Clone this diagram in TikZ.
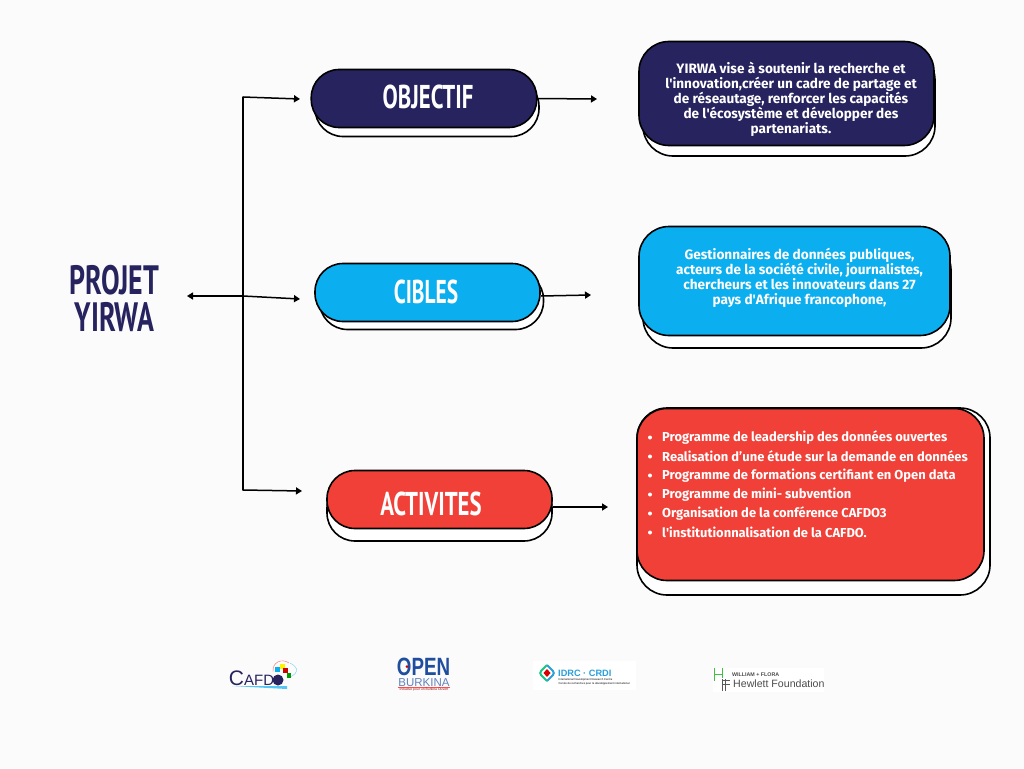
\documentclass[tikz,border=0pt]{standalone}
\usepackage{fontspec}
\setmainfont{Fira Sans}
\newfontfamily\headfont{PT Sans}
\newfontfamily\logofont{Liberation Sans}
\usetikzlibrary{arrows.meta}
\definecolor{fondpage}{HTML}{FBFBFB}
\definecolor{navy}{HTML}{27235F}
\definecolor{cyanb}{HTML}{0BAEEF}
\definecolor{rouge}{HTML}{F04037}
\definecolor{bleuopen}{HTML}{1F4E9E}
\definecolor{bleuidrc}{HTML}{2A9FD8}
\tikzset{
  backbox/.style={draw=black,line width=1.6pt,fill=white,inner sep=0pt,outer sep=0pt},
  pill/.style={backbox,rounded corners=28pt,minimum width=224pt,minimum height=58pt},
  card/.style={backbox,rounded corners=30pt},
  head/.style={font=\headfont\bfseries\fontsize{33}{33}\selectfont,text=white,xscale=.69,transform shape},
  title/.style={font=\headfont\bfseries\fontsize{41}{37}\selectfont,text=navy,xscale=.68,transform shape,align=center},
  body/.style={font=\bfseries\fontsize{13.6}{15}\selectfont,text=white,align=center},
  item/.style={font=\bfseries\fontsize{12.95}{14}\selectfont,text=white,anchor=west,inner sep=0pt},
  link/.style={line width=1.5pt,-{Triangle[length=6pt,width=7pt]}},
  tiny/.style={font=\logofont\fontsize{2.75}{4}\selectfont,anchor=west,inner sep=0pt},
}
\begin{document}
\begin{tikzpicture}[x=1pt,y=-1pt]   % ------ coordinates read off in pixels -----------
    \fill[fondpage] (0,0) rectangle (1024,768);
    \useasboundingbox (0,0) rectangle (1024,768);
    % back shapes
    \node[pill] (objectifback) at (427,107.5) {};
    \node[pill] (ciblesback) at (431.5,300.5) {};
    \node[pill,minimum height=61pt,minimum width=225pt] (activitesback) at (439.5,510.5) {};
    \node[card,minimum width=292pt,minimum height=106pt] (butback) at (789,103) {};
    \node[card,minimum width=308pt,minimum height=108pt] (publicback) at (797,294) {};
    \node[card,minimum width=353pt,minimum height=187pt] (listeback) at (813.5,501.5) {};
    % front shapes
    \node[pill,fill=navy,minimum width=225.5pt] (objectif) at (424,98.5) {};
    \node[pill,fill=cyanb,minimum width=225pt] (cibles) at (427.5,292.5) {};
    \node[pill,fill=rouge,minimum width=225pt] (activites) at (439.5,499.5) {};
    \node[card,fill=navy,minimum width=295pt,minimum height=104pt] (but) at (786.5,93.5) {};
    \node[card,fill=cyanb,minimum width=311pt,minimum height=109pt] (public) at (794.5,281) {};
    \node[card,fill=rouge,minimum width=347pt,minimum height=172pt] (liste) at (810.5,494.5) {};
    % labels
    \node[head] (objectiftxt) at (428,97) {OBJECTIF};
    \node[head,xscale=.94] (ciblestxt) at (426,292) {CIBLES};
    \node[head] (activitestxt) at (431,504) {ACTIVITES};
    \node[title] (projet) at (114.5,298) {PROJET\\YIRWA};
    \node[body] (buttxt) at (791,99.5) {YIRWA vise à soutenir la recherche et\\ l\textquotesingle innovation,créer un cadre de partage et\\ de réseautage, renforcer les capacités\\ de l\textquotesingle écosystème et développer des\\ partenariats.};
    \node[body] (publictxt) at (799.5,278) {Gestionnaires de données publiques,\\ acteurs de la société civile, journalistes,\\ chercheurs et les innovateurs dans 27\\ pays d\textquotesingle Afrique francophone,};
    \foreach \ligne/\y/\txt in {a/437.5/Programme de leadership des données ouvertes,
        b/456.5/Realisation d’une étude sur la demande en données,
        c/475.5/Programme de formations certifiant en Open data,
        d/494.5/Programme de mini- subvention,
        e/513.5/Organisation de la conférence CAFDO3,
        f/532.5/l\textquotesingle institutionnalisation de la CAFDO.}{
      \fill[white] (650,\y) circle (2pt);
      \node[item] (item\ligne) at (662,\y) {\txt};
    }
    % connectors
    \coordinate (tronchaut) at (243,97);
    \coordinate (troncmil) at (243,296);
    \coordinate (troncbas) at (243,490);
    \coordinate (versobjectif) at (300,99);
    \coordinate (verscibles) at (300,299);
    \coordinate (versactivites) at (302,491);
    \coordinate (versprojet) at (187,296);
    \coordinate (sortiecibles) at (541,296);
    \coordinate (versbut) at (597,99);
    \coordinate (verspublic) at (591,295);
    \coordinate (sortieactivites) at (553,507);
    \coordinate (versliste) at (608,507);
    \draw[line width=1.5pt,line cap=round] (tronchaut) -- (troncbas);
    \draw[link] (tronchaut) -- (versobjectif);
    \draw[link] (troncmil) -- (verscibles);
    \draw[link] (troncbas) -- (versactivites);
    \draw[link] (troncmil) -- (versprojet);
    \draw[link] (objectif.east) -- (versbut);
    \draw[link] (sortiecibles) -- (verspublic);
    \draw[link] (sortieactivites) -- (versliste);
    % logo CAFDO
    \draw[red!60,line width=.4pt] (273,672) .. controls (272,662) and (282,658) .. (289,663);
    \draw[cyanb!60,line width=.4pt] (290,663) .. controls (300,668) and (298,674) .. (288,678);
    \fill[cyanb] (275,667) rectangle (280,672);
    \fill[yellow] (280,664) rectangle (285,669);
    \fill[red!80!black] (283,668) rectangle (288,673);
    \fill[green!60!black] (287,673) rectangle (291,678);
    \fill[cyanb!70] (232,686) -- (287,686) -- (287,689) .. controls (260,687) .. (232,686);
    \fill[navy] (278,680) circle (5.5pt);
    \node[font=\logofont,text=navy,inner sep=0pt] (cafdo) at (251.5,678) {\fontsize{21}{21}\selectfont C\fontsize{15}{15}\selectfont AFD};
    % logo Open Burkina
    \node[font=\logofont\bfseries\fontsize{25}{25}\selectfont,text=bleuopen,inner sep=0pt,xscale=.75,transform shape] (open) at (423.5,667) {OPEN};
    \fill[red!80!black] (407,666.5) circle (1.5pt);
    \node[font=\logofont\fontsize{11.5}{12}\selectfont,text=bleuopen!70,inner sep=0pt] (burkina) at (424,682.2) {BURKINA};
    \draw[red!70,line width=.5pt] (398,687.3) -- (450,687.3);
    \node[font=\logofont\fontsize{3.4}{4}\selectfont,text=red!70!black,inner sep=0pt] (ouvert) at (424,689.3) {Initiative pour un Burkina Ouvert};
    % logo IDRC
    \fill[white] (533,661) rectangle (636,690);
    \draw[bleuidrc,line width=2pt,rounded corners=3pt] (547,665) -- (555,673) -- (547,681);
    \draw[bleuidrc!60!green,line width=2pt,rounded corners=3pt] (547,681) -- (539,673) -- (547,665);
    \fill[red!85!black] (547,669) -- (550.5,673) -- (547,677) -- (543.5,673) -- cycle;
    \node[font=\logofont\bfseries\fontsize{9.2}{10}\selectfont,text=bleuidrc,anchor=west,inner sep=0pt] (idrc) at (558,673) {IDRC · CRDI};
    \node[tiny] (idrcen) at (558.5,680) {International Development Research Centre};
    \node[tiny] (idrcfr) at (558.5,684) {Centre de recherches pour le développement international};
    % logo Hewlett
    \fill[white] (713,668) rectangle (824,692);
    \draw[green!50!gray,line width=1pt] (714,668) -- (714,681) (722.5,668) -- (722.5,678) (714,674) -- (722.5,674);
    \draw[gray!70!black,line width=1pt] (722,691) -- (722,679) (725,691) -- (725,679) (722,680) -- (730,680) (722,684) -- (730,684);
    \node[font=\logofont\bfseries\fontsize{5.3}{6}\selectfont,text=gray!60!black,anchor=west,inner sep=0pt] (william) at (732,675) {WILLIAM + FLORA};
    \node[font=\logofont\fontsize{10.6}{12}\selectfont,text=black!70,anchor=west,inner sep=0pt] (hewlett) at (733,684) {Hewlett Foundation};
\end{tikzpicture}
\end{document}
